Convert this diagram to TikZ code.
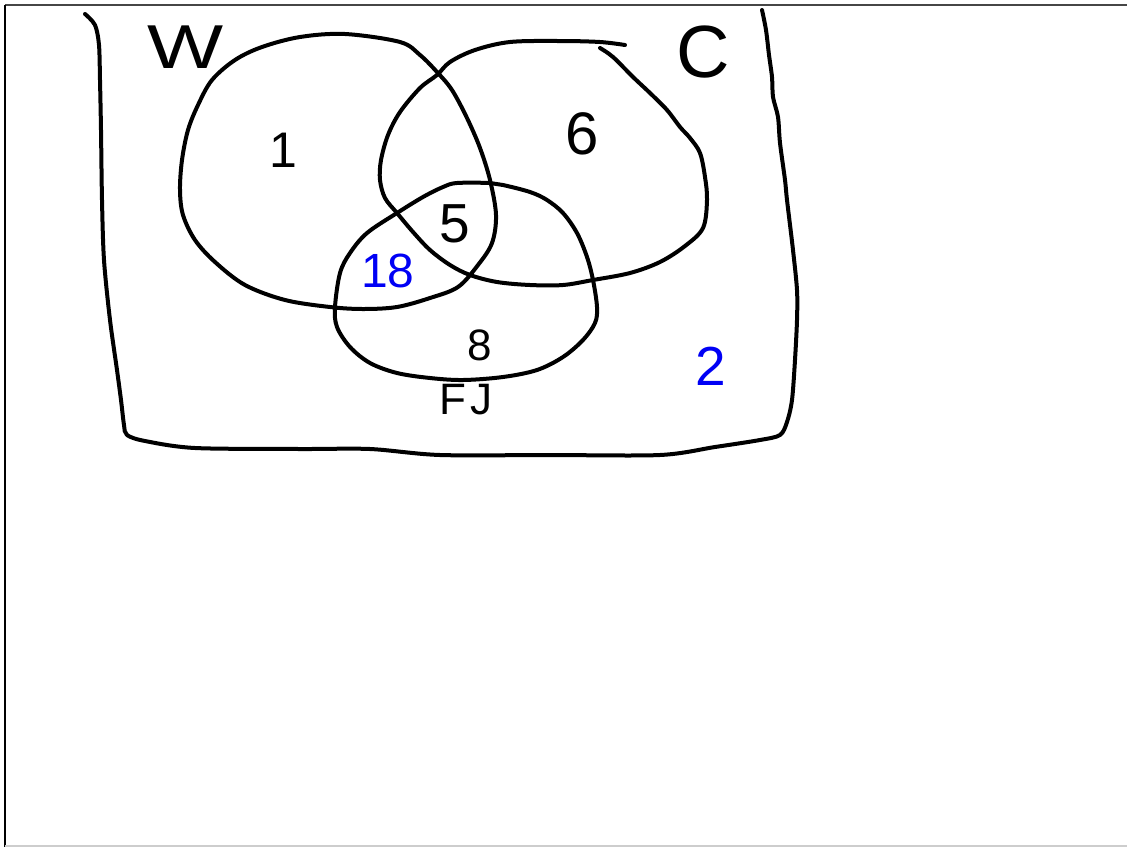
\documentclass[tikz,border=0pt]{standalone}
\usepackage{fontspec}
\setmainfont{Liberation Sans}
\definecolor{ink}{RGB}{0,0,245}
\definecolor{framegray}{RGB}{70,70,70}
\definecolor{lightframe}{RGB}{205,205,205}
\begin{document}
\begin{tikzpicture}[x=1pt,y=-1pt,
  pen/.style={draw=black, line width=4pt, line cap=round, line join=round},
  lab/.style={inner sep=0pt, font=\fontsize{#1pt}{#1pt}\selectfont},
  blab/.style={lab=#1, text=ink}]
\useasboundingbox (0,0) rectangle (1127,847);
\fill[white] (0,0) rectangle (1127,847);
% canvas frame
\draw[framegray, line width=2pt] (5,5) -- (1127,5);
\draw[black, line width=2pt] (5,5) -- (5,847);
\draw[lightframe, line width=2pt] (5,845.5) -- (1127,845.5);
% universe (open at top)
\draw[pen] plot[smooth, tension=0.5] coordinates {
 (85,14) (95,25) (99,45) (100,80) (101,130) (102,200) (104,260) (110,320)
 (117,370) (121,400) (124,425) (127,435) (145,441) (195,448) (300,449)
 (370,449) (440,455) (550,455) (660,455) (715,447) (760,440) (780,435)
 (787,422) (792,400) (795,360) (797,320) (797,290) (793,250) (787,200)
 (785,180) (780,143) (778,117) (773,97) (772,77) (769,55) (766,30) (762,10)};
% W set
\draw[pen] plot[smooth cycle, tension=0.55] coordinates {
 (345,34) (400,42) (420,55) (437,72) (452,90) (467,118) (480,148) (490,180)
 (496,215) (492,243) (478,265) (458,287) (430,298) (397,307) (363,309)
 (330,307) (285,300) (245,285) (215,262) (195,240) (183,215) (180,190)
 (182,160) (188,130) (198,105) (212,80) (235,60) (262,47) (300,37)};
% C set (open, overlapping at top)
\draw[pen] plot[smooth, tension=0.55] coordinates {
 (625,45) (600,42) (560,41) (510,42) (475,50) (450,62) (437,75) (420,88)
 (400,112) (388,135) (381,160) (380,180) (385,198) (397,213) (413,232)
 (430,250) (450,265) (470,275) (497,282) (530,285) (563,285) (593,280)
 (630,273) (660,262) (685,246) (703,228) (707,200) (705,177) (700,153)
 (690,138) (680,127) (667,110) (650,93) (633,77) (613,57) (600,48)};
% FJ set
\draw[pen] plot[smooth cycle, tension=0.55] coordinates {
 (457,183) (490,183) (503,185) (530,192) (547,200) (563,213) (577,233)
 (587,257) (593,280) (597,307) (595,323) (583,340) (563,357) (537,370)
 (503,377) (463,380) (430,378) (397,373) (370,363) (350,347) (337,327)
 (335,307) (340,273) (350,253) (367,233) (397,213) (423,197) (443,187)};
% labels
\node[lab=62, xscale=1.3] (w) at (186,47) {W};
\node[lab=74] (c) at (703,52) {C};
\node[lab=50] (n1) at (283,150) {1};
\node[lab=60] (n6) at (582,134) {6};
\node[lab=55] (n5) at (455,224) {5};
\node[blab=48] (n18) at (388,271) {18};
\node[lab=44] (n8) at (480,345) {8};
\node[lab=44] (fj) at (466,400) {F\kern5pt J};
\node[blab=55] (n2) at (711,366) {2};
\end{tikzpicture}
\end{document}
